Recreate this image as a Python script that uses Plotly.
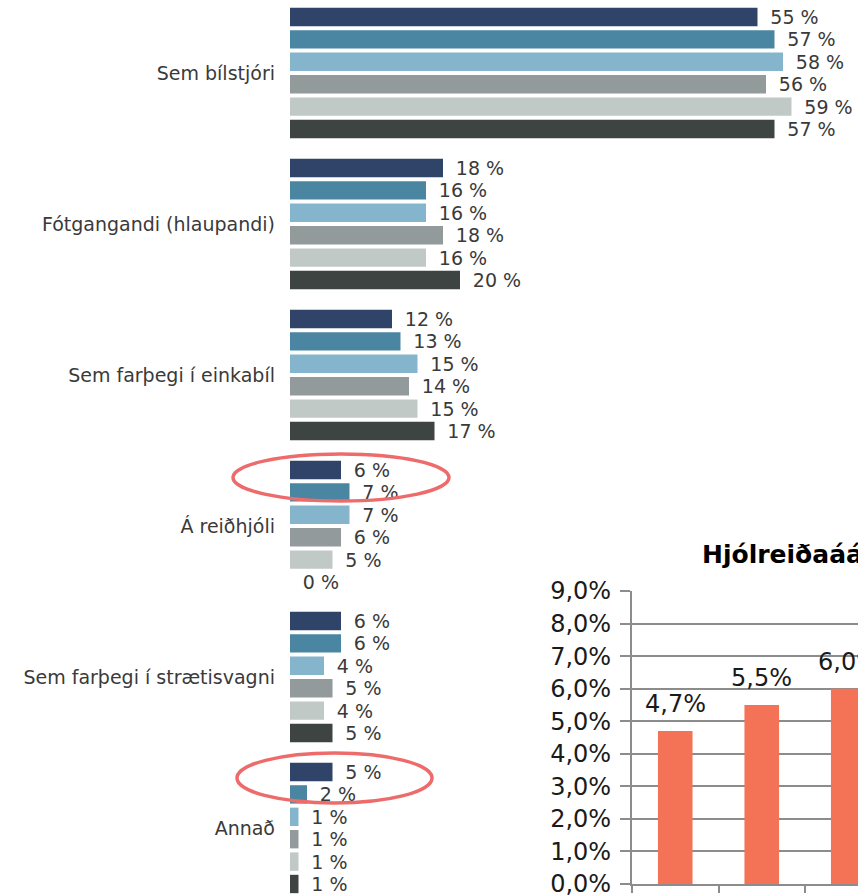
import plotly.graph_objects as go

# ---- Main chart data ----
categories = ["Sem bílstjóri", "Fótgangandi (hlaupandi)", "Sem farþegi í einkabíl",
              "Á reiðhjóli", "Sem farþegi í strætisvagni", "Annað"]
series_names = ["Könnun 1", "Könnun 2", "Könnun 3", "Könnun 4", "Könnun 5", "Könnun 6"]
s1 = [55, 18, 12, 6, 6, 5]
s2 = [57, 16, 13, 7, 6, 2]
s3 = [58, 16, 15, 7, 4, 1]
s4 = [56, 18, 14, 6, 5, 1]
s5 = [59, 16, 15, 5, 4, 1]
s6 = [57, 20, 17, 0, 5, 1]
series_values = [s1, s2, s3, s4, s5, s6]
series_colors = ["#2f4468", "#4a86a2", "#85b5cd", "#929a9b", "#c1c9c7", "#3e4441"]

# ---- Inset chart data ----
inset_title = "Hjólreiðaáá"
inset_x = [0, 1, 2]
inset_values = [4.7, 5.5, 6.0]
inset_labels = [f"{v:.1f}".replace(".", ",") + "%" for v in inset_values]

W, H = 858, 895
ML = 290
PW = W - ML
PX_PER_PCT = 8.5

def px_x(p):
    return (p - ML) / PW

def px_y(p):
    return (H - p) / H

fig = go.Figure()

txt_font = dict(family="DejaVu Sans", size=19, color="#3a3a3a")

for name, vals, col in zip(series_names, series_values, series_colors):
    fig.add_trace(go.Bar(
        y=categories, x=vals, orientation="h", name=name,
        marker=dict(color=col, line=dict(width=0)),
        text=[f"\u00a0\u2009{v} %" for v in vals],
        textposition="outside", textfont=txt_font,
        constraintext="none", cliponaxis=False,
        xaxis="x", yaxis="y", showlegend=False,
    ))

# inset bars
fig.add_trace(go.Bar(
    x=inset_x, y=inset_values, width=0.4,
    marker=dict(color="#f47356", line=dict(width=0)),
    xaxis="x2", yaxis="y2", showlegend=False,
))

annotations = []
for xv, yv, lab in zip(inset_x, inset_values, inset_labels):
    annotations.append(dict(
        x=xv, y=yv, xref="x2", yref="y2", text=lab, showarrow=False,
        yanchor="bottom", xanchor="center", yshift=11,
        font=dict(family="DejaVu Sans", size=24, color="#1a1a1a"),
    ))
annotations.append(dict(
    x=px_x(700), y=px_y(554), xref="paper", yref="paper",
    text="<b>" + inset_title + "</b>", showarrow=False,
    xanchor="left", yanchor="middle",
    font=dict(family="DejaVu Sans", size=25, color="#000000"),
))

ell_col = "#ee6b6b"
shapes = [
    dict(type="circle", xref="paper", yref="paper",
         x0=px_x(233), x1=px_x(449), y0=px_y(501), y1=px_y(454),
         line=dict(color=ell_col, width=3.5), layer="above"),
    dict(type="circle", xref="paper", yref="paper",
         x0=px_x(237), x1=px_x(432), y0=px_y(803), y1=px_y(753),
         line=dict(color=ell_col, width=3.5), layer="above"),
]

slot = 151.0
y_top = -0.5 + 2.5 / slot
y_bot = y_top + H / slot

grid_col = "#8c8c8c"
fig.update_layout(
    width=W, height=H,
    margin=dict(l=ML, r=0, t=0, b=0, pad=0, autoexpand=False),
    paper_bgcolor="white", plot_bgcolor="white",
    barmode="group", bargap=0.11, bargroupgap=0.18,
    separators=",.",
    font=dict(family="DejaVu Sans", color="#3a3a3a"),
    xaxis=dict(domain=[0, 1], range=[0, PW / PX_PER_PCT], visible=False,
               fixedrange=True, automargin=False),
    yaxis=dict(domain=[0, 1], type="category", range=[y_bot, y_top],
               showgrid=False, zeroline=False, showline=False, ticks="",
               ticklabelstandoff=14, automargin=False,
               tickfont=dict(family="DejaVu Sans", size=19, color="#3a3a3a")),
    xaxis2=dict(domain=[px_x(632), 1], anchor="y2",
                range=[-0.5, -0.5 + (W - 632) / 86.5],
                showgrid=False, zeroline=False, showline=True,
                linecolor=grid_col, linewidth=2, automargin=False,
                ticks="outside", tickvals=[-0.5, 0.5, 1.5, 2.5], ticklen=7,
                tickwidth=2, tickcolor=grid_col, showticklabels=False),
    yaxis2=dict(domain=[px_y(884), px_y(591)], anchor="x2",
                range=[0, 9], dtick=1, tick0=0,
                tickformat=".1f", ticksuffix="%",
                showgrid=True, gridcolor=grid_col, gridwidth=2,
                zeroline=False, showline=True, linecolor=grid_col, linewidth=2,
                ticks="outside", ticklen=10, tickwidth=2, tickcolor=grid_col,
                ticklabelstandoff=4, automargin=False, ticklabeloverflow="allow",
                tickfont=dict(family="DejaVu Sans", size=24, color="#1a1a1a")),
    annotations=annotations,
    shapes=shapes,
)

fig.write_html("out.html",
               config={"displayModeBar": False, "staticPlot": True},
               post_script="document.body.style.margin='0';document.body.style.padding='0';")
